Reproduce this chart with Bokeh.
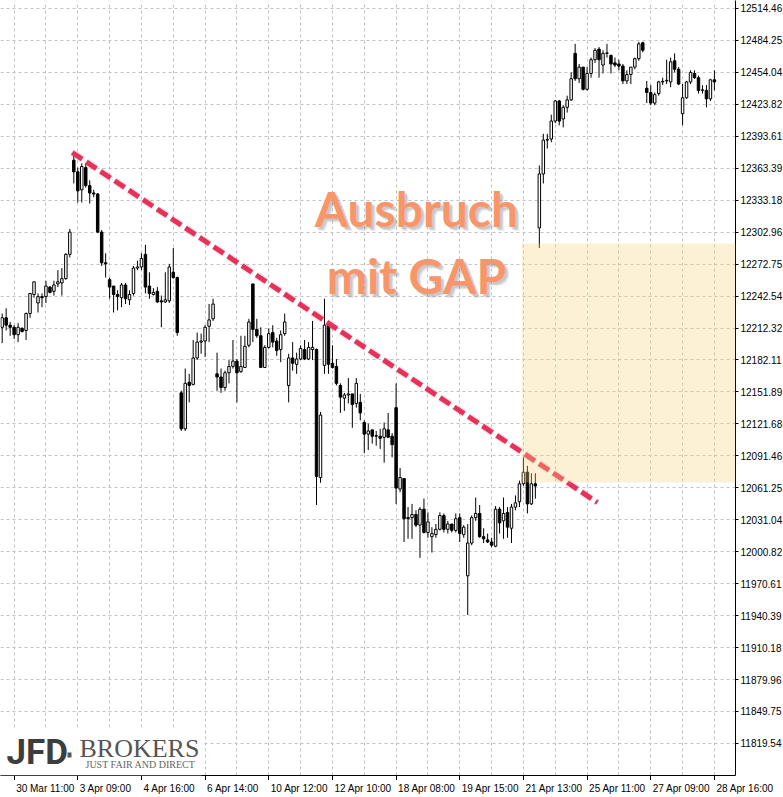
from bokeh.plotting import figure
from bokeh.layouts import column
from bokeh.models import (Range1d, FixedTicker, PrintfTickFormatter, Label,
                          BoxAnnotation, ColumnDataSource)
from bokeh.core.properties import value
from bokeh.embed import file_html
from bokeh.resources import INLINE

# ---------------- data (hourly candles, bar index 0..179) ----------------
opens = [12213, 12222, 12215, 12213, 12206, 12212, 12210, 12226, 12244, 12236,
         12242, 12242, 12251, 12247, 12254, 12255, 12259, 12282, 12371, 12360,
         12343, 12364, 12347, 12340, 12339, 12303, 12274, 12258, 12252, 12244,
         12241, 12253, 12239, 12245, 12269, 12270, 12282, 12252, 12244, 12247,
         12238, 12237, 12238, 12265, 12260, 12151, 12117, 12161, 12159, 12184,
         12199, 12200, 12214, 12221, 12169, 12166, 12156, 12170, 12176, 12181,
         12171, 12175, 12196, 12254, 12211, 12205, 12175, 12194, 12208, 12200,
         12192, 12207, 12158, 12184, 12178, 12183, 12192, 12183, 12192, 12192,
         12071, 12177, 12216, 12179, 12176, 12158, 12146, 12149, 12150, 12141,
         12142, 12123, 12112, 12116, 12110, 12110, 12109, 12116, 12110, 12137,
         12060, 12070, 12033, 12033, 12036, 12026, 12041, 12019, 12015, 12017,
         12022, 12035, 12022, 12027, 12021, 12033, 12017, 11978, 12009, 12033,
         12037, 12015, 12012, 12010, 12006, 12041, 12030, 12038, 12023, 12043,
         12048, 12065, 12076, 12046, 12065, 12307, 12358, 12390, 12391, 12408,
         12427, 12410, 12421, 12428, 12472, 12448, 12459, 12438, 12453, 12466,
         12476, 12461, 12472, 12470, 12463, 12462, 12460, 12446, 12452, 12459,
         12467, 12482, 12439, 12435, 12425, 12434, 12445, 12446, 12445, 12465,
         12457, 12415, 12430, 12445, 12453, 12449, 12437, 12437, 12429, 12447]
highs = [12226, 12231, 12218, 12215, 12217, 12213, 12227, 12245, 12256, 12245,
         12245, 12257, 12252, 12257, 12267, 12269, 12283, 12306, 12376, 12364,
         12368, 12368, 12352, 12343, 12340, 12305, 12283, 12260, 12252, 12248,
         12255, 12255, 12248, 12271, 12276, 12283, 12291, 12265, 12250, 12251,
         12243, 12265, 12273, 12288, 12261, 12153, 12174, 12169, 12201, 12208,
         12207, 12215, 12235, 12240, 12189, 12174, 12172, 12182, 12201, 12183,
         12205, 12205, 12221, 12254, 12221, 12213, 12196, 12212, 12215, 12203,
         12210, 12226, 12188, 12199, 12189, 12196, 12201, 12199, 12219, 12193,
         12133, 12240, 12217, 12196, 12183, 12160, 12151, 12165, 12150, 12165,
         12150, 12125, 12122, 12116, 12115, 12117, 12123, 12132, 12113, 12160,
         12080, 12070, 12043, 12046, 12040, 12043, 12051, 12038, 12024, 12027,
         12038, 12037, 12030, 12027, 12037, 12037, 12026, 12027, 12035, 12052,
         12045, 12023, 12018, 12014, 12044, 12043, 12052, 12043, 12046, 12054,
         12068, 12090, 12082, 12075, 12075, 12366, 12396, 12396, 12414, 12428,
         12428, 12423, 12432, 12454, 12481, 12462, 12459, 12459, 12468, 12477,
         12478, 12475, 12481, 12471, 12468, 12466, 12462, 12456, 12459, 12468,
         12483, 12483, 12446, 12442, 12435, 12446, 12449, 12466, 12468, 12472,
         12459, 12443, 12446, 12456, 12456, 12451, 12442, 12442, 12448, 12456]
lows = [12198, 12210, 12205, 12202, 12199, 12208, 12201, 12222, 12241, 12227,
        12232, 12236, 12245, 12243, 12251, 12243, 12258, 12279, 12349, 12331,
        12331, 12345, 12330, 12336, 12302, 12271, 12260, 12240, 12227, 12229,
        12232, 12235, 12234, 12243, 12267, 12267, 12245, 12240, 12243, 12236,
        12213, 12236, 12236, 12259, 12205, 12115, 12115, 12142, 12158, 12182,
        12188, 12185, 12199, 12219, 12153, 12151, 12153, 12160, 12174, 12142,
        12170, 12175, 12194, 12199, 12203, 12175, 12175, 12193, 12194, 12186,
        12180, 12205, 12142, 12172, 12169, 12182, 12182, 12182, 12182, 12045,
        12066, 12169, 12169, 12174, 12158, 12132, 12134, 12141, 12118, 12137,
        12125, 12094, 12097, 12103, 12101, 12098, 12085, 12109, 12090, 12046,
        12057, 12010, 12013, 12013, 12024, 11995, 12018, 12014, 12000, 12014,
        12021, 12019, 12018, 12019, 12019, 12010, 12014, 11941, 12007, 12030,
        12014, 12009, 12009, 12005, 12005, 12018, 12013, 12014, 12009, 12040,
        12043, 12063, 12037, 12045, 12051, 12288, 12349, 12382, 12388, 12406,
        12404, 12402, 12416, 12427, 12446, 12444, 12437, 12437, 12449, 12463,
        12449, 12453, 12468, 12453, 12459, 12456, 12443, 12443, 12443, 12457,
        12465, 12473, 12425, 12423, 12423, 12432, 12442, 12443, 12440, 12454,
        12442, 12404, 12429, 12443, 12448, 12434, 12434, 12421, 12427, 12437]
closes = [12222, 12215, 12213, 12206, 12213, 12209, 12226, 12245, 12256, 12242,
          12241, 12252, 12246, 12253, 12256, 12259, 12282, 12303, 12360, 12342,
          12365, 12347, 12340, 12339, 12303, 12274, 12273, 12251, 12244, 12242,
          12253, 12240, 12244, 12269, 12270, 12278, 12251, 12245, 12246, 12237,
          12237, 12239, 12270, 12260, 12208, 12117, 12160, 12158, 12184, 12199,
          12200, 12213, 12220, 12235, 12166, 12156, 12170, 12176, 12181, 12170,
          12176, 12195, 12218, 12211, 12205, 12175, 12194, 12207, 12199, 12191,
          12206, 12218, 12184, 12179, 12183, 12193, 12183, 12194, 12194, 12072,
          12130, 12215, 12178, 12175, 12160, 12147, 12149, 12150, 12140, 12160,
          12132, 12112, 12115, 12110, 12110, 12108, 12117, 12109, 12102, 12061,
          12071, 12032, 12032, 12036, 12026, 12041, 12019, 12029, 12018, 12022,
          12035, 12022, 12027, 12021, 12032, 12018, 12024, 12009, 12033, 12037,
          12015, 12013, 12010, 12007, 12041, 12028, 12037, 12024, 12043, 12047,
          12065, 12076, 12046, 12065, 12063, 12358, 12390, 12390, 12408, 12427,
          12408, 12421, 12428, 12448, 12448, 12459, 12438, 12453, 12466, 12475,
          12466, 12472, 12472, 12462, 12461, 12460, 12446, 12452, 12459, 12467,
          12481, 12475, 12435, 12425, 12433, 12445, 12445, 12446, 12464, 12457,
          12443, 12430, 12445, 12454, 12449, 12437, 12437, 12429, 12447, 12445]

y_ticks = [12514.46, 12484.25, 12454.04, 12423.82, 12393.61, 12363.39, 12333.18,
           12302.96, 12272.75, 12242.54, 12212.32, 12182.11, 12151.89, 12121.68,
           12091.46, 12061.25, 12031.04, 12000.82, 11970.61, 11940.39, 11910.18,
           11879.96, 11849.75, 11819.54]
x_tick_idx = [3, 19, 35, 51, 67, 83, 99, 115, 131, 147, 163, 179]
x_tick_labels = ["30 Mar 11:00", "3 Apr 09:00", "4 Apr 16:00", "6 Apr 14:00",
                 "10 Apr 12:00", "12 Apr 10:00", "18 Apr 08:00", "19 Apr 15:00",
                 "21 Apr 13:00", "25 Apr 11:00", "27 Apr 09:00", "28 Apr 16:00"]

# trend line (bar index, price) and gap zone (start bar, low, high)
trend_x = [17.6, 149.6]
trend_y = [12378.3, 12047.3]
gap_start = 130.6
gap_low = 12066.2
gap_high = 12292.2

# ---------------- layout constants ----------------
FRAME_W, FRAME_H = 735, 775
X0, X1 = -0.425, 184.3
Y0, Y1 = 11789.2, 12522.0
TOTAL_W = 782

# ---------------- main figure ----------------
n = len(opens)
idx = list(range(n))
tops, bottoms, fills = [], [], []
for o, c in zip(opens, closes):
    tops.append(max(o, c) + (0.5 if o == c else 0))
    bottoms.append(min(o, c))
    fills.append("white" if c >= o else "black")
src = ColumnDataSource(dict(x=idx, high=highs, low=lows, top=tops, bottom=bottoms, fill=fills))

p = figure(frame_width=FRAME_W, frame_height=FRAME_H, output_backend="svg",
           toolbar_location=None, x_range=Range1d(X0, X1), y_range=Range1d(Y0, Y1),
           y_axis_location="right", min_border_left=0, min_border_top=0,
           min_border_right=0, min_border_bottom=0)
p.outline_line_color = None
p.background_fill_color = "white"
p.border_fill_color = "white"

# grid
p.xgrid.ticker = FixedTicker(ticks=list(range(3, 185, 8)))
p.ygrid.ticker = FixedTicker(ticks=y_ticks)
for g in (p.xgrid, p.ygrid):
    g.grid_line_color = "#c2c2c2"
    g.grid_line_dash = "3 3"
    g.grid_line_width = 1

# axes
ya = p.yaxis[0]
ya.ticker = FixedTicker(ticks=y_ticks)
ya.formatter = PrintfTickFormatter(format="%.2f")
ya.major_label_text_font = "Liberation Sans"
ya.major_label_text_font_size = "10px"
ya.major_label_text_color = "black"
ya.axis_line_color = "black"
ya.major_tick_line_color = "black"
ya.major_tick_out = 3
ya.major_tick_in = 0
ya.minor_tick_line_color = None
ya.major_label_standoff = 2

xa = p.xaxis[0]
xa.ticker = FixedTicker(ticks=x_tick_idx)
xa.major_label_overrides = {t: "" for t in x_tick_idx}
xa.major_label_text_font_size = "0px"
xa.major_label_standoff = 0
xa.axis_line_color = "black"
xa.major_tick_line_color = "black"
xa.major_tick_out = 5
xa.major_tick_in = 0
xa.minor_tick_line_color = None

# candles
p.segment(x0="x", y0="low", x1="x", y1="high", source=src, line_color="black", line_width=1)
p.vbar(x="x", width=0.62, top="top", bottom="bottom", fill_color="fill",
       line_color="black", line_width=1, source=src)

# gap zone
p.add_layout(BoxAnnotation(left=gap_start, bottom=gap_low, top=gap_high,
                           fill_color="#F6D27A", fill_alpha=0.32, line_color=None))

# trend line with soft shadow
p.line(trend_x, trend_y, line_color="#888888", line_alpha=0.18, line_width=8,
       line_dash="12 5")
p.line(trend_x, trend_y, line_color="#E8305A", line_width=5, line_dash="12 5")

# headline text with shadow (anchor = vertical centre of capitals)
for txt, yy in (("Ausbruch", 12325.3), ("mit GAP", 12262.4)):
    for dx, dy, a in ((2, -2, 0.16), (3, -3, 0.16), (4, -4, 0.12)):
        p.add_layout(Label(x=104.1, y=yy, x_offset=dx, y_offset=dy, text=txt,
                           text_align="center", text_baseline="middle",
                           text_font="Lato", text_font_style="bold",
                           text_font_size="48px", text_color="#6e6e6e", text_alpha=a))
    p.add_layout(Label(x=104.1, y=yy, text=txt, text_align="center",
                       text_baseline="middle", text_font="Lato",
                       text_font_style="bold", text_font_size="48px",
                       text_color="#F7956B"))

# logo
p.add_layout(BoxAnnotation(right=50.1, top=11833.6, fill_color="white",
                           fill_alpha=1.0, line_color=None))
p.add_layout(Label(x=6, y=23.5, x_units="screen", y_units="screen", text="JFD",
                   text_font="Roboto", text_font_style="bold", text_font_size="35px",
                   text_color="#3d3d3d", text_baseline="middle"))
p.add_layout(BoxAnnotation(left=67, right=71, bottom=18, top=23, left_units="screen",
                           right_units="screen", bottom_units="screen", top_units="screen",
                           fill_color="#555555", fill_alpha=1.0, line_color=None))
p.add_layout(Label(x=79, y=27.5, x_units="screen", y_units="screen", text="BROKERS",
                   text_font="Liberation Serif", text_font_size="26px",
                   text_color="#555555", text_baseline="middle"))
p.add_layout(Label(x=85, y=11.5, x_units="screen", y_units="screen",
                   text="JUST FAIR AND DIRECT", text_font="Liberation Serif",
                   text_font_size="10px", text_color="#666666",
                   text_baseline="middle"))

# ---------------- strip with x tick labels (left aligned at ticks) ----------------
px_per_bar = FRAME_W / (X1 - X0)
p2 = figure(frame_width=TOTAL_W, frame_height=16, output_backend="svg",
            toolbar_location=None, x_range=Range1d(X0, X0 + TOTAL_W / px_per_bar),
            y_range=Range1d(0, 1), x_axis_location=None, y_axis_location=None,
            min_border_left=0, min_border_top=0, min_border_right=0, min_border_bottom=0)
p2.outline_line_color = None
p2.xgrid.visible = False
p2.ygrid.visible = False
p2.background_fill_color = "white"
p2.border_fill_color = "white"
p2.text(x=x_tick_idx, y=[0.5] * len(x_tick_idx), text=x_tick_labels, x_offset=2,
        text_align="left", text_baseline="middle",
        text_font=value("Liberation Sans"), text_font_size=value("10px"),
        text_color="black")

layout = column(p, p2, spacing=0)
open("out.html", "w").write(file_html(layout, INLINE))
